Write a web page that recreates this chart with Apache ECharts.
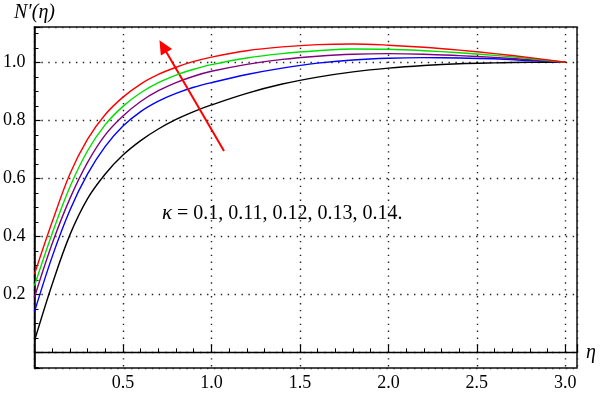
<!DOCTYPE html>
<html>
<head>
<meta charset="utf-8">
<script src="https://cdn.jsdelivr.net/npm/echarts@6/dist/echarts.min.js"></script>
<style>
html,body{margin:0;padding:0;background:#fff;}
#chart{width:600px;height:393px;}
</style>
</head>
<body>
<div id="chart"></div>
<script>
// eta sample points
var etaValues = [0,0.1,0.2,0.3,0.4,0.5,0.6,0.7,0.8,0.9,1.0,1.2,1.4,1.6,1.8,2.0,2.2,2.4,2.6,2.8,3.0];
// N'(eta) for kappa = 0.1 .. 0.14
var kappa010 = [0.04,0.235,0.405,0.53,0.615,0.68,0.73,0.77,0.803,0.83,0.853,0.893,0.925,0.949,0.967,0.98,0.989,0.995,0.998,1.0,1.0];
var kappa011 = [0.14,0.33,0.49,0.615,0.71,0.78,0.83,0.866,0.893,0.914,0.93,0.958,0.98,0.997,1.008,1.014,1.016,1.015,1.012,1.006,1.0];
var kappa012 = [0.19,0.375,0.53,0.655,0.75,0.815,0.865,0.902,0.93,0.952,0.969,0.993,1.01,1.021,1.028,1.03,1.028,1.023,1.017,1.009,1.0];
var kappa013 = [0.23,0.41,0.57,0.695,0.785,0.848,0.895,0.93,0.956,0.976,0.992,1.015,1.03,1.04,1.046,1.045,1.04,1.033,1.024,1.013,1.0];
var kappa014 = [0.27,0.45,0.615,0.735,0.82,0.88,0.925,0.958,0.983,1.003,1.018,1.04,1.053,1.061,1.063,1.059,1.052,1.042,1.03,1.016,1.0];
var xTickLabels = ['0.5','1.0','1.5','2.0','2.5','3.0'];
var yTickLabels = ['0.2','0.4','0.6','0.8','1.0'];
var arrowStart = [1.071, 0.694];
var arrowEnd = [0.726, 1.0555];

function pairs(vals){ return etaValues.map(function(x,i){ return [x, vals[i]]; }); }
var serif = '"Liberation Serif", "DejaVu Serif", serif';
function lab(list){
  return function(v){
    var s = (Math.round(v*10)/10).toFixed(1);
    return (Math.abs(v - parseFloat(s)) < 1e-6 && list.indexOf(s) >= 0) ? s : '';
  };
}
function curve(vals, color, z){
  return {type:'line', data:pairs(vals), showSymbol:false, smooth:0.35,
    lineStyle:{color:color, width:1.4}, z:z, silent:true, animation:false};
}
var chart = echarts.init(document.getElementById('chart'), null, {renderer:'canvas'});
var dotted = {color:'#222', width:1.4, type:[1.4,5.5]};
chart.setOption({
  animation:false,
  grid:{left:34, right:23, top:27, bottom:25, show:true, borderColor:'#111', borderWidth:1.5, backgroundColor:'transparent'},
  xAxis:[{
    type:'value', min:0, max:3.066, interval:0.5, position:'bottom',
    axisLine:{show:false, onZero:false},
    axisTick:{show:false},
    axisLabel:{formatter:lab(xTickLabels), color:'#000', fontFamily:serif, fontSize:18, margin:6},
    splitLine:{show:true, lineStyle:dotted}
  },{
    type:'value', min:0, max:3.066, interval:0.5, position:'bottom',
    name:'η', nameLocation:'end', nameGap:9,
    nameTextStyle:{fontFamily:serif, fontStyle:'italic', fontSize:20, color:'#000', verticalAlign:'middle', padding:[4,0,0,0]},
    axisLine:{show:true, onZero:true, lineStyle:{color:'#000', width:1.3}},
    axisTick:{show:true, inside:true, length:8, lineStyle:{color:'#000', width:1.2}},
    minorTick:{show:true, splitNumber:5, length:4, lineStyle:{color:'#000', width:1}},
    axisLabel:{show:false},
    splitLine:{show:false}
  }],
  yAxis:{
    type:'value', min:-0.054, max:1.1217, splitNumber:5,
    name:"N′(η)", nameLocation:'end', nameGap:4,
    nameTextStyle:{fontFamily:serif, fontStyle:'italic', fontSize:20, color:'#000', align:'center'},
    axisLine:{show:true, onZero:false, lineStyle:{color:'#000', width:1.5}},
    axisTick:{show:true, inside:true, length:6, lineStyle:{color:'#000', width:1.2}},
    minorTick:{show:true, splitNumber:4, length:4, lineStyle:{color:'#000', width:1}},
    axisLabel:{formatter:lab(yTickLabels), color:'#000', fontFamily:serif, fontSize:18, margin:9},
    splitLine:{show:true, lineStyle:dotted}
  },
  graphic:[{
    type:'text', left:162, top:203, z:50,
    style:{text:'{k|κ} = 0.1, 0.11, 0.12, 0.13, 0.14.', font:'20px "Liberation Serif", serif', fill:'#000',
      rich:{k:{fontFamily:'"Liberation Serif", serif', fontStyle:'italic', fontSize:21, fill:'#000'}}}
  }],
  series:[
    curve(kappa010, '#000000', 2),
    curve(kappa011, '#0000ff', 3),
    curve(kappa012, '#800080', 4),
    curve(kappa013, '#00e000', 5),
    curve(kappa014, '#ff0000', 6),
    {type:'line', data:[], z:10, silent:true,
     markLine:{silent:true, animation:false, symbol:['none','triangle'], symbolSize:[13,14],
       label:{show:false}, lineStyle:{color:'#ff0000', width:2, type:'solid'},
       data:[[{coord:arrowStart},{coord:arrowEnd}]]}}
  ]
});
</script>
</body>
</html>
